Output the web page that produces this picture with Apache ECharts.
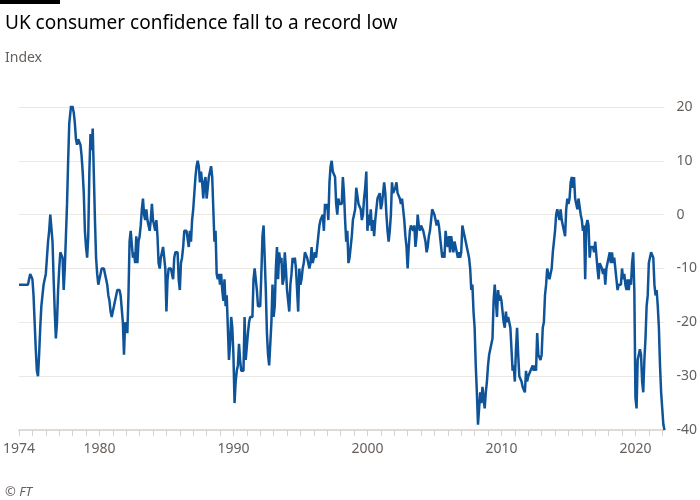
<!DOCTYPE html>
<html>
<head>
<meta charset="utf-8">
<script src="https://cdn.jsdelivr.net/npm/echarts@6/dist/echarts.min.js"></script>
<style>
  html, body { margin: 0; padding: 0; background: #fff; }
  #chart { width: 700px; height: 500px; }
</style>
</head>
<body>
<div id="chart"></div>
<script>
// GfK consumer confidence index, monthly
const startYear = 1974;
const labelYears = [1974, 1980, 1990, 2000, 2010, 2020];

const index1970s = [
  -13,-13,-13,-13,-13,-13,-13,-13,-13,-12,-11,-11, // 1974
  -12,-15,-20,-25,-29,-30,-26,-21,-17,-15,-13,-12, // 1975
  -11,-8,-5,-3,0,0,-5,-12,-18,-23,-20,-14,         // 1976
  -10,-7,-7,-8,-14,-10,-4,2,10,17,19,21,           // 1977
  20,19,17,14,13,14,14,13,11,8,4,-3,               // 1978
  -6,-8,-4,8,15,12,16,16,-1,-8,-11,-13             // 1979
];
const index1980s = [
  -12,-11,-10,-10,-10,-11,-12,-13,-15,-16,-18,-19, // 1980
  -18,-17,-16,-15,-14,-14,-14,-15,-15,-20,-26,-20, // 1981
  -21,-22,-15,-5,-3,-3,-8,-7,-9,-4,-9,-5,          // 1982
  -4,-2,1,3,0,-1,1,-1,-2,-3,-1,2,                  // 1983
  -1,-2,-3,-1,-4,-9,-10,-8,-7,-6,-6,-10,           // 1984
  -18,-12,-10,-10,-10,-11,-12,-8,-7,-7,-7,-12,     // 1985
  -14,-9,-8,-6,-3,-3,-3,-3,-6,-3,-5,-1,            // 1986
  1,4,7,9,10,9,6,8,6,3,6,7,                        // 1987
  3,5,7,8,9,7,1,-5,-3,-11,-12,-11,                 // 1988
  -13,-11,-14,-16,-12,-17,-15,-15,-27,-24,-19,-21  // 1989
];
const index1990s = [
  -26,-35,-31,-29,-28,-24,-27,-29,-29,-29,-19,-27, // 1990
  -27,-22,-20,-19,-19,-19,-12,-10,-12,-14,-17,-17, // 1991
  -17,-11,-4,-2,-8,-14,-22,-26,-28,-28,-20,-13,    // 1992
  -19,-17,-10,-6,-12,-7,-9,-8,-13,-12,-7,-10,      // 1993
  -14,-16,-18,-13,-11,-8,-9,-8,-10,-14,-18,-10,    // 1994
  -13,-12,-10,-9,-7,-7,-8,-9,-10,-9,-6,-9,         // 1995
  -8,-7,-8,-6,-4,-2,-1,-1,0,-3,2,1,                // 1996
  2,-1,6,9,10,8,8,7,2,0,3,2,                       // 1997
  2,2,7,4,-1,-5,-3,-9,-8,-8,-4,-1,                 // 1998
  0,1,5,5,2,2,1,-1,0,3,5,8                         // 1999
];
const index2000s = [
  -3,0,-2,1,-3,-1,-4,-1,-1,3,3,4,                  // 2000
  1,2,4,6,4,0,-3,-5,-3,0,6,4,                      // 2001
  4,5,6,4,4,3,2,3,1,-1,-4,-6,                      // 2002
  -10,-6,-3,-2,-2,-3,-2,-6,-4,0,-2,-3,             // 2003
  -2,-2,-3,-4,-5,-7,-6,-4,-3,-1,1,1,               // 2004
  0,-1,-2,-1,-2,-4,-6,-8,-7,-8,-3,-5,              // 2005
  -6,-4,-7,-4,-4,-7,-5,-6,-7,-8,-7,-8,             // 2006
  -7,-2,-2,-4,-5,-6,-7,-8,-10,-14,-13,-18,         // 2007
  -21,-28,-33,-39,-36,-33,-35,-32,-34,-36,-33,-31, // 2008
  -28,-26,-25,-25,-23,-16,-13,-16,-19,-14,-16,-15  // 2009
];
const index2010s = [
  -16,-18,-20,-21,-18,-20,-19,-20,-21,-25,-29,-28, // 2010
  -31,-25,-21,-26,-30,-30,-31,-32,-32,-33,-29,-31, // 2011
  -30,-30,-29,-29,-28,-29,-28,-29,-22,-26,-26,-27, // 2012
  -26,-21,-20,-15,-13,-10,-10,-12,-12,-10,-7,-5,   // 2013
  -3,0,1,1,-1,1,-1,-2,-3,-4,1,3,                   // 2014
  2,3,6,7,5,7,3,2,1,3,3,0,                         // 2015
  -1,-3,-2,-12,-2,-1,-2,-8,-6,-6,-6,-7,            // 2016
  -5,-5,-10,-12,-9,-9,-10,-11,-10,-13,-10,-9,      // 2017
  -9,-7,-9,-7,-9,-8,-10,-12,-14,-13,-13,-13,       // 2018
  -10,-12,-11,-13,-14,-12,-14,-12,-13,-9,-7,-14    // 2019
];
const index2020s = [
  -34,-36,-27,-27,-25,-26,-31,-33,-27,-23,-17,-15, // 2020
  -9,-9,-7,-7,-8,-13,-15,-14,-17,-21,-28,-33,      // 2021
  -36,-39,-40                                      // 2022
];

const values = [].concat(index1970s, index1980s, index1990s, index2000s, index2010s, index2020s);
const months = values.map((v, i) => {
  const y = startYear + Math.floor(i / 12);
  const m = (i % 12) + 1;
  return y + '-' + (m < 10 ? '0' + m : m);
});

const isJan = (val) => val.slice(5) === '01';
const grey = '#66605c';
const font = '"Noto Sans", sans-serif';

const chart = echarts.init(document.getElementById('chart'));
chart.setOption({
  backgroundColor: '#ffffff',
  animation: false,
  title: [{
    text: 'UK consumer confidence fall to a record low',
    left: 0, top: 9,
    textStyle: { fontFamily: font, fontSize: 19, fontWeight: 'normal', color: '#000' }
  }, {
    text: 'Index',
    left: 0, top: 46,
    textStyle: { fontFamily: font, fontSize: 14, fontWeight: 'normal', color: grey }
  }, {
    text: '© FT',
    left: 0, top: 481,
    textStyle: { fontFamily: font, fontSize: 13, fontWeight: 'normal', fontStyle: 'italic', color: grey }
  }],
  graphic: [{
    type: 'rect', left: 0, top: 0,
    shape: { width: 60, height: 4 },
    style: { fill: '#000' }
  }],
  grid: { left: 17, right: 35, top: 107, bottom: 70 },
  xAxis: {
    type: 'category',
    data: months,
    boundaryGap: false,
    axisLine: { onZero: false, lineStyle: { color: '#e0dbd6', width: 2 } },
    axisTick: {
      interval: (i, val) => isJan(val),
      length: 6,
      lineStyle: { color: '#d6d1cc' }
    },
    axisLabel: {
      interval: (i, val) => isJan(val) && labelYears.includes(+val.slice(0, 4)),
      formatter: (val) => val.slice(0, 4),
      color: grey, fontFamily: font, fontSize: 14, margin: 12
    },
    splitLine: { show: false }
  },
  yAxis: {
    type: 'value',
    position: 'right',
    min: -40, max: 20, interval: 10,
    axisLine: { show: false },
    axisTick: { show: false },
    axisLabel: { color: grey, fontFamily: font, fontSize: 14, margin: 12 },
    splitLine: { lineStyle: { color: '#ece8e4', width: 1 } }
  },
  series: [{
    type: 'line',
    data: values,
    showSymbol: false,
    symbol: 'none',
    lineStyle: { color: '#0f5499', width: 2.5 },
    z: 3
  }]
});
</script>
</body>
</html>
